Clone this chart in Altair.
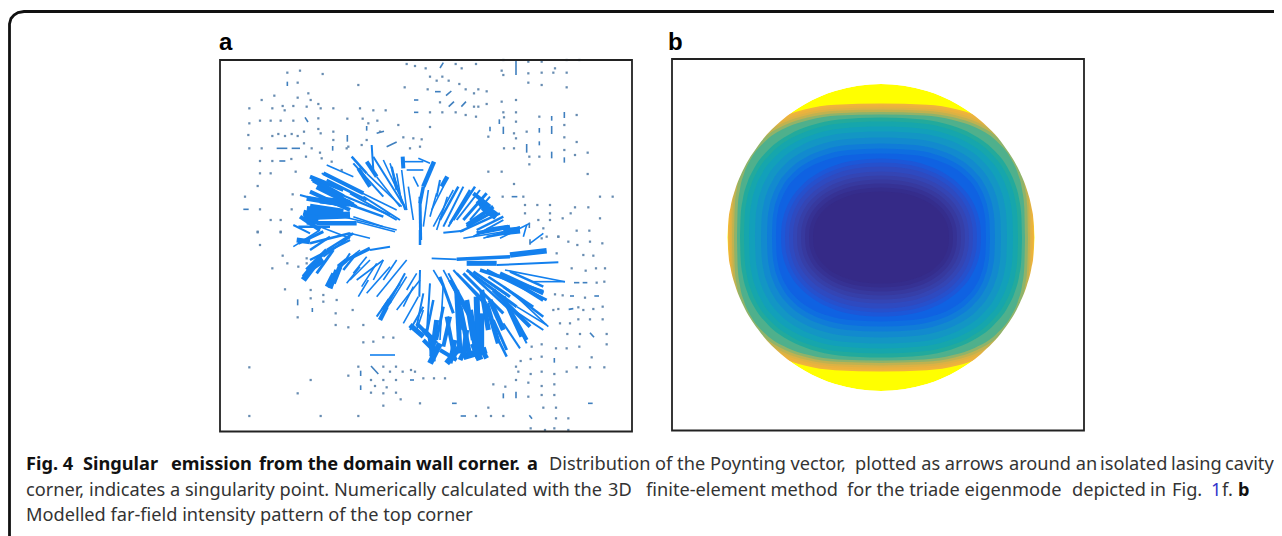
import altair as alt
import pandas as pd

# ---------- arrows in panel a, read from two crops (crop px = 3 x reference px)
# x1, y1, x2, y2, stroke width in crop px
fan_top = [
 (335,430,560,540,2),(350,450,470,510,6),(305,448,440,530,6),(300,485,420,540,8),(270,495,400,530,4),
 (280,548,330,560,12),(290,575,325,575,12),(320,580,440,580,9),(440,575,555,605,3),(250,585,300,610,4),
 (425,380,470,430,5),(470,430,575,530,3),(485,345,490,420,4),(490,380,590,540,4),(520,390,585,530,3),
 (540,400,585,540,2),(578,380,580,415,8),(580,395,640,395,2),(590,420,640,420,2),(575,420,590,540,2),
 (350,405,430,440,2),(630,500,632,630,6),(672,395,640,470,9),(640,470,630,520,7),(660,400,625,385,2),
 (712,440,695,470,9),(700,470,665,540,3),(730,480,670,590,3),(760,470,700,590,4),(780,480,720,580,5),
 (810,480,740,570,4),(805,510,840,550,14),(850,545,770,590,6),(870,550,750,605,5),(880,605,930,600,14),
 (880,570,790,620,4),(930,590,820,625,3),(400,560,560,600,2),(330,590,420,625,3),(420,610,480,625,2),
 (340,430,460,490,8),(310,450,400,500,10),(320,470,430,525,10),(290,505,380,520,10),(380,510,520,560,5),
 (420,490,560,570,4),(460,500,570,570,4),(265,590,360,590,5),(280,560,420,555,14),(300,530,400,545,12),
 (430,400,520,500,4),(445,415,480,470,8),(545,410,560,480,5),(610,440,625,470,3),(690,450,680,500,4),
 (680,490,660,560,3),(745,470,690,570,5),(795,470,730,570,5),(830,490,760,570,6),(850,530,770,585,8),
 (820,530,860,560,16),(900,590,800,610,8),(920,605,830,620,5),(950,585,940,620,3),
 (300,440,400,480,8),(360,480,540,555,4),(330,510,420,520,14),(290,540,380,550,16),(270,560,330,600,8),
 (430,560,520,590,3),(500,440,570,530,3),(470,395,500,440,8),(560,430,575,520,3),(595,470,610,570,3),
 (655,480,640,590,3),(712,500,680,600,3),(770,500,715,590,4),(840,500,780,570,4),(790,490,840,530,8),
 (880,560,800,600,5),(895,590,830,600,8),(960,580,870,625,3),
]
fan_bottom = [
 (260,30,300,35,10),(300,40,420,10,5),(330,0,250,50,3),(280,150,310,110,12),(310,110,340,90,12),
 (340,80,420,20,4),(360,175,380,120,10),(385,110,410,90,9),(410,90,480,55,7),(480,60,540,50,4),
 (400,100,450,60,3),(420,150,480,90,3),(440,150,520,90,3),(470,190,540,110,3),(500,200,590,90,3),
 (510,270,530,230,9),(530,230,585,130,4),(560,240,630,150,3),(580,280,625,200,2),(630,120,628,200,4),
 (630,0,630,45,5),(665,85,740,88,3),(740,88,900,80,7),(900,75,1010,62,11),(770,100,860,100,10),
 (860,105,1045,97,4),(885,120,1065,155,3),(970,155,1065,155,3),(810,120,1000,185,7),(770,120,920,230,6),
 (920,230,1010,285,3),(730,120,830,230,4),(700,120,760,230,3),(670,120,700,170,3),(800,200,805,385,12),
 (740,180,750,370,10),(830,220,865,340,10),(880,200,935,320,9),(660,160,650,320,4),(700,160,690,330,3),
 (600,285,640,320,10),(640,300,670,330,10),(660,400,690,340,12),(710,400,750,350,12),(760,380,830,360,14),
 (790,340,810,390,14),(890,380,860,320,5),(930,355,880,280,4),(1015,290,920,200,3),(480,375,555,375,3),
 (700,8,760,2,4),(760,25,880,5,3),(960,40,1000,10,2),
 (280,140,330,80,8),(300,90,420,30,5),(350,60,430,10,5),(370,160,390,110,10),(350,170,370,130,8),
 (430,130,470,80,3),(380,130,420,70,4),(455,170,500,100,3),(490,150,520,90,2),(520,150,560,90,3),
 (500,260,570,160,4),(520,240,540,210,10),(590,180,620,130,3),(790,125,900,200,6),(830,120,1010,210,6),
 (870,130,1000,190,8),(900,125,1000,170,5),(760,130,880,250,6),(850,180,960,290,8),(880,220,1000,300,4),
 (720,150,790,280,8),(690,140,730,250,6),(745,200,760,300,8),(770,210,790,330,10),(815,180,835,300,10),
 (840,210,880,300,10),(900,240,950,330,8),(640,190,620,290,4),(670,210,650,310,5),(700,230,680,330,6),
 (720,260,700,350,8),(620,280,680,340,8),(660,320,670,395,10),(735,330,720,400,10),(770,350,750,390,10),
 (800,330,830,385,10),
 (300,60,360,20,5),(265,40,340,5,6),(290,120,350,60,8),(320,130,370,60,6),(400,120,440,70,5),(410,160,450,110,3),
 (445,200,475,150,3),(540,220,590,140,3),(580,230,610,170,2),(600,300,640,230,4),(640,240,620,300,3),
 (715,130,775,240,4),(740,130,830,220,5),(780,130,900,240,5),(835,140,970,230,5),(880,170,1000,260,5),
 (920,160,1000,210,8),(750,230,780,380,10),(780,240,800,370,12),(710,260,735,390,8),(850,270,890,360,6),
 (920,280,950,340,4),(680,270,665,380,10),(640,330,670,360,8),(690,360,740,390,8),(770,300,760,380,10),
 (815,250,815,370,10),
]
# small blue-grey dashes: x1, y1, x2, y2
dash_top = [
 (690,114,700,98),(918,92,918,135),(232,155,232,168),(675,185,692,185),(708,197,724,183),(612,210,625,210),
 (716,230,732,215),(754,230,768,215),(612,247,625,247),(1063,246,1063,264),(868,268,868,282),(1025,258,1025,272),
 (470,288,470,302),(840,290,840,304),(880,290,880,312),(988,294,988,308),(1025,288,1025,312),(200,355,232,355),
 (245,355,270,355),(368,348,368,362),(412,315,412,335),(950,342,950,368),(1025,365,1025,385),(988,334,988,346),
 (208,393,226,393),(905,500,922,500),(100,538,116,538),(958,578,958,594),(1063,382,1063,398),(285,262,294,276),
 (500,310,522,304),(530,350,560,336),
]
dash_bottom = [
 (452,422,452,438),(483,408,505,432),(600,450,612,450),(452,466,452,480),(726,520,740,520),(752,558,768,558),
 (880,490,880,505),(918,485,918,505),(1134,520,1148,520),(1140,308,1152,322),(1033,384,1033,398),(1118,158,1132,158),
 (1092,158,1108,158),(1080,198,1092,198),(1153,198,1167,198),(1076,238,1090,236),(263,208,263,226),(307,234,307,246),
 (960,28,960,44),(958,556,966,566),
]
# small dots: x, y
dots_top = [
 (590,102),(615,108),(647,115),(737,102),(755,115),(798,102),(880,90),(875,122),(880,135),(955,95),(955,130),
 (995,95),(995,128),(1035,115),(1030,128),(1070,128),(1070,90),(1108,90),(955,158),(995,165),(1070,172),(232,128),
 (270,122),(338,132),(263,158),(445,165),(584,172),(660,140),(680,152),(697,140),(716,152),(748,162),(653,178),
 (767,178),(805,178),(792,190),(830,184),(690,217),(805,230),(792,230),(830,222),(875,215),(918,210),(193,197),
 (155,210),(263,203),(295,190),(302,210),(118,235),(187,235),(218,228),(224,241),(250,228),(290,230),(325,222),
 (332,235),(370,235),(450,235),(490,241),(527,241),(660,247),(697,247),(737,247),(767,255),(798,260),(880,247),
 (918,247),(882,262),(118,280),(150,272),(182,272),(212,272),(250,272),(325,265),(412,266),(458,266),(475,280),
 (502,272),(565,285),(660,291),(918,275),(988,260),(1100,255),(1063,285),(115,315),(187,318),(205,312),(225,318),
 (245,312),(263,318),(282,305),(325,297),(332,310),(370,305),(510,305),(835,320),(912,310),(918,325),(950,305),
 (1063,322),(1100,336),(118,355),(155,355),(282,340),(305,355),(330,368),(370,330),(415,350),(150,393),(187,393),
 (244,387),(288,380),(150,430),(182,430),(257,425),(143,468),(248,493),(105,500),(150,538),(245,538),(182,570),
 (212,570),(143,607),(212,607),(882,355),(912,355),(1063,360),(1095,375),(1133,368),(958,380),(988,380),(958,403),
 (835,425),(875,425),(912,462),(1133,432),(940,500),(878,500),(1170,500),(1208,500),(1135,532),(1095,532),(1020,525),
 (1020,550),(982,525),(945,525),(945,550),(985,570),(1020,570),(1058,565),(1082,550),(1170,565),(1100,602),(1138,602),
 (1000,595),(1045,620),(455,345),(470,330),(580,322),(610,325),(635,328),(600,355),(630,350),(410,355),(335,385),
 (365,395),(395,420),
]
dots_bottom = [
 (118,412),(302,450),(263,490),(118,558),(332,558),(445,558),(445,410),(415,437),(520,410),(558,410),(540,425),
 (578,425),(603,420),(615,425),(640,445),(672,445),(705,445),(483,450),(520,450),(558,450),(495,468),(483,488),
 (520,490),(558,488),(530,472),(572,508),(520,527),(630,520),(835,533),(798,558),(843,558),(880,558),(962,595),
 (1005,600),(1033,595),(1075,600),(1038,565),(1075,565),(1000,533),(1038,533),(955,500),(995,495),(1033,495),(850,463),
 (886,470),(918,450),(955,458),(995,468),(1033,463),(925,425),(962,432),(995,425),(1033,432),(1070,425),(1100,412),
 (1140,412),(1183,412),(1145,382),(1190,343),(1190,312),(1110,312),(1072,312),(1038,355),(1070,355),(1108,350),(995,343),
 (965,350),(932,393),(962,387),(995,380),(918,410),(1177,40),(1140,35),(1102,45),(1075,35),(1045,20),(1120,75),(1150,77),
 (1040,70),(1085,115),(1127,122),(1158,115),(1185,115),(1183,155),(1160,158),(1035,193),(1058,196),(1125,203),(1178,230),
 (1150,237),(1105,232),(1120,240),(1045,237),(1030,240),(1105,268),(1140,268),(1178,268),(1050,280),(1080,280),(1010,20),
 (995,25),(150,45),(218,77),(232,100),(187,115),(225,178),(263,262),(302,180),(302,205),(340,195),(380,210),(377,250),
 (377,285),(415,292),(428,240),(460,285),(340,215),(265,110),(290,100),(290,85),(143,5),(212,5),(460,337),(490,335),
 (520,322),(550,323),
]

# ---------- far-field pattern in panel b: contour half-widths, half-heights, colours
disc_centre = (881, 237.5)
disc_radius = 153.5
contour_rx = [153,152,150.5,149,147,144,141,137,132,126,120,114,109,105,100,96,92,88,84,80,76,72,68]
contour_ry = [134,132,130,128,125.5,123,120,116,111,106,100,94,89,84,79,75,71,66,62,58,54,50,46]
contour_col = ["#f0b43c","#eab23e","#dcb244","#c0b250","#8fb36a","#4fb08c","#22aa9c","#16a6ac","#12a0ba",
               "#1396c4","#128ace","#107cd8","#0e6ee0","#0f62e2","#1c57d8","#2650cc","#2e4ac0","#3445b4",
               "#363fa8","#37399e","#363294","#352d8c","#352a87"]
contour_shape = ["sq"]*6 + ["md"]*8 + ["rd"]*9
outline_u = [-1,-.995,-.98,-.95,-.9,-.8,-.65,-.5,-.3,0,.3,.5,.65,.8,.9,.95,.98,.995,1]
half_v = {
 "circle":[0,.0999,.199,.312,.436,.6,.76,.866,.954,1],
 "sq":[0,.246,.389,.523,.647,.787,.898,.956,.991,1],
 "md":[0,.188,.318,.449,.578,.729,.859,.933,.983,1],
 "rd":[0,.129,.24,.362,.489,.65,.8,.894,.967,1],
}
outline_v = {k: v + v[-2::-1] for k, v in half_v.items()}

# ---------- frames and text
frame_x = [1274,24,18,14,11,9.5,9.5]
frame_y = [11.5,11.5,12.5,15,18.5,24,536]
panel_a = (220,60,632,431.5)
panel_b = (672,59,1084,430.5)
labels = [("a",219,50),("b",668,50)]
caption_bold = [("Fig. 4",26,470),("Singular",83,470),("emission",171,470),("from the domain",259,470),
                ("wall corner.",416,470),("a",527,470),("b",1238,496)]
caption_reg = [("Distribution of the",549,470),("Poynting vector,",710,470),("plotted as arrows",855,470),
               ("around an",1009,470),("isolated",1100,470),("lasing",1171,470),("cavity",1225,470),
               ("corner, indicates a singularity point.",26,496),("Numerically",334,496),("calculated",441,496),
               ("with",533,496),("the",574,496),("3D",608,496),
               ("finite-element method",646,496),("for the triade eigenmode",847,496),("depicted",1072,496),
               ("in",1150,496),("Fig.",1172,496),
               ("f.",1222,496),("Modelled far-field intensity pattern of the top corner",26,521)]
caption_link = [("1",1211,496)]

# ---------- tables
def a_x(z): return 210 + z/3
def top_y(z): return 30 + z/3
def bot_y(z): return 230 + z/3

segs = [dict(x=a_x(a),y=top_y(b),x2=a_x(c),y2=top_y(d),w=max(e/2,1.6)) for a,b,c,d,e in fan_top] + \
       [dict(x=a_x(a),y=bot_y(b),x2=a_x(c),y2=bot_y(d),w=max(e/2,1.6)) for a,b,c,d,e in fan_bottom]
dashes = [dict(x=a_x(a),y=top_y(b),x2=a_x(c),y2=top_y(d)) for a,b,c,d in dash_top] + \
         [dict(x=a_x(a),y=bot_y(b),x2=a_x(c),y2=bot_y(d)) for a,b,c,d in dash_bottom]
dots = [dict(x=a_x(a),y=top_y(b)) for a,b in dots_top] + [dict(x=a_x(a),y=bot_y(b)) for a,b in dots_bottom]

cx, cy = disc_centre
disc = pd.DataFrame([dict(x=cx+disc_radius*u,y=cy-disc_radius*v,y2=cy+disc_radius*v)
                     for u,v in zip(outline_u,outline_v["circle"])])
mask_top = disc.assign(y2=panel_b[1])[["x","y","y2"]]
mask_bot = pd.DataFrame(dict(x=disc.x,y=disc.y2,y2=panel_b[3]))

X = alt.Scale(domain=[8,1274],nice=False,zero=False)
Y = alt.Scale(domain=[536,8],nice=False,zero=False)
ex = alt.X("x:Q",scale=X,axis=None)
ey = alt.Y("y:Q",scale=Y,axis=None)

def area(df,color):
    return alt.Chart(df).mark_area(color=color,interpolate="monotone").encode(ex,ey,y2="y2:Q")

layers = []
layers.append(alt.Chart(pd.DataFrame(segs)).mark_rule(color="#1380ee",strokeCap="butt").encode(
    ex,ey,x2="x2:Q",y2="y2:Q",strokeWidth=alt.StrokeWidth("w:Q",scale=None)))
layers.append(alt.Chart(pd.DataFrame(dashes)).mark_rule(color="#3f7fbe",strokeWidth=1.6).encode(ex,ey,x2="x2:Q",y2="y2:Q"))
layers.append(alt.Chart(pd.DataFrame(dots)).mark_square(color="#5f86ad",size=5,opacity=0.95).encode(ex,ey))

layers.append(area(disc,"#ffff00"))
for rx,ry,c,s in zip(contour_rx,contour_ry,contour_col,contour_shape):
    df = pd.DataFrame([dict(x=cx+rx*u,y=cy-ry*v,y2=cy+ry*v) for u,v in zip(outline_u,outline_v[s])])
    layers.append(area(df,c))
layers.append(area(mask_top,"white"))
layers.append(area(mask_bot,"white"))

boxes = []
for k,(l,t,r,b) in enumerate([panel_a,panel_b]):
    boxes += [dict(k=k,i=0,x=l,y=t),dict(k=k,i=1,x=r,y=t),dict(k=k,i=2,x=r,y=b),dict(k=k,i=3,x=l,y=b),dict(k=k,i=4,x=l,y=t)]
layers.append(alt.Chart(pd.DataFrame(boxes)).mark_line(color="#222222",strokeWidth=1.8,strokeCap="square").encode(
    ex,ey,detail="k:O",order="i:Q"))
layers.append(alt.Chart(pd.DataFrame(dict(x=frame_x,y=frame_y,i=range(len(frame_x))))).mark_line(
    color="#111111",strokeWidth=2.8).encode(ex,ey,order="i:Q"))

def texts(items,font,size,weight,color):
    df = pd.DataFrame(items,columns=["t","x","y"])
    return alt.Chart(df).mark_text(align="left",baseline="alphabetic",font=font,fontSize=size,fontWeight=weight,color=color).encode(
        ex,ey,text="t:N")
layers.append(texts(labels,"Liberation Sans",24,"bold","#000000"))
layers.append(texts(caption_bold,"Noto Sans",18.2,"bold","#111111"))
layers.append(texts(caption_reg,"Noto Sans",18.2,"normal","#333333"))
layers.append(texts(caption_link,"Noto Sans",18.2,"normal","#3333cc"))

chart = alt.layer(*layers).properties(width=1266,height=528,padding=0,autosize=alt.AutoSizeParams(type="none")
    ).configure_view(stroke=None)
chart.save("out.html",embed_options={"renderer":"svg","actions":False})
